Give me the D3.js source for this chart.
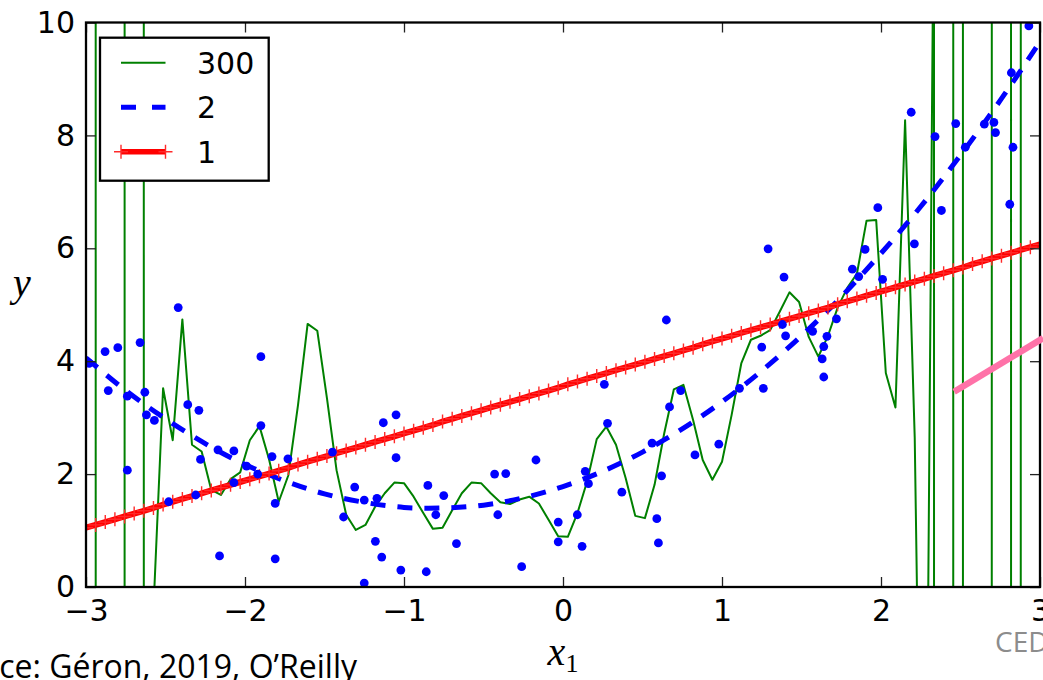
<!DOCTYPE html>
<html>
<head>
<meta charset="utf-8">
<script src="https://cdn.jsdelivr.net/npm/d3@7"></script>
<style>
  body { margin: 0; background: #fff; }
  svg { display: block; }
</style>
</head>
<body>
<svg id="chart" width="1043" height="680"></svg>
<script>
////////////////////////////////////////////////////////////////////// DATA //////////////////////////////////////////////////////
// sample grid of the fitted curves (np.linspace(-3, 3, 100))
var xNew = d3.range(100).map(function(i) { return -3 + 6 * i / 99; });

var BIG = 5000; // degree 300 fit shoots far off the chart at both ends

// degree 300 fit, one value per grid point
var y300 = [
  BIG, 40, -BIG, -BIG, -30, BIG, -5, -0.4, 3.52, 2.60,
  4.74, 2.52, 2.40, 1.72, 1.63, 1.91, 2.03, 2.60, 2.85, 2.26,
  1.51, 1.98, 3.22, 4.66, 4.54, 3.35, 2.07, 1.28, 1.01, 1.10,
  1.42, 1.66, 1.85, 1.84, 1.60, 1.31, 1.03, 1.05, 1.36, 1.66,
  1.85, 1.84, 1.66, 1.50, 1.47, 1.55, 1.60, 1.48, 1.19, 0.90,
  0.89, 1.31, 1.87, 2.62, 2.84, 2.52, 1.93, 1.26, 1.22, 1.81,
  2.72, 3.50, 3.58, 2.96, 2.25, 1.90, 2.22, 3.05, 3.96, 4.38,
  4.45, 4.55, 4.88, 5.22, 5.05, 4.43, 4.08, 4.45, 4.95, 5.30,
  5.55, 6.49, 6.50, 3.79, 3.18, 8.27, 2.65, -8.9, 13, -BIG,
  20, 20, -BIG, -BIG, 20, BIG, -20, -20, BIG, BIG
];

// degree 1 fit, one value per grid point
var y1 = [
  1.05, 1.10, 1.15, 1.20, 1.25, 1.30, 1.35, 1.40, 1.46, 1.51,
  1.56, 1.61, 1.66, 1.71, 1.76, 1.81, 1.86, 1.91, 1.96, 2.01,
  2.06, 2.11, 2.17, 2.22, 2.27, 2.32, 2.37, 2.42, 2.47, 2.52,
  2.57, 2.62, 2.67, 2.72, 2.77, 2.82, 2.87, 2.93, 2.98, 3.03,
  3.08, 3.13, 3.18, 3.23, 3.28, 3.33, 3.38, 3.43, 3.48, 3.53,
  3.59, 3.64, 3.69, 3.74, 3.79, 3.84, 3.89, 3.94, 3.99, 4.04,
  4.09, 4.14, 4.19, 4.24, 4.30, 4.35, 4.40, 4.45, 4.50, 4.55,
  4.60, 4.65, 4.70, 4.75, 4.80, 4.85, 4.90, 4.95, 5.01, 5.06,
  5.11, 5.16, 5.21, 5.26, 5.31, 5.36, 5.41, 5.46, 5.51, 5.56,
  5.61, 5.66, 5.72, 5.77, 5.82, 5.87, 5.92, 5.97, 6.02, 6.07
];

// degree 2 fit
var quadX = [-3, -2.75, -2.5, -2.25, -2, -1.75, -1.5, -1.25, -1, -0.75, -0.5, -0.25,
             0, 0.25, 0.5, 0.75, 1, 1.25, 1.5, 1.75, 2, 2.25, 2.5, 2.75, 3];
var quadY = [4.06, 3.48, 2.98, 2.54, 2.17, 1.88, 1.65, 1.50, 1.41, 1.40, 1.45, 1.58,
             1.78, 2.05, 2.39, 2.80, 3.28, 3.83, 4.45, 5.14, 5.91, 6.74, 7.65, 8.62, 9.66];

// training points
var dotX = [-2.42, -2.88, -2.80, -2.66, -2.98, -2.86, -2.74, -2.63, -2.62, -2.57,
            -2.74, -2.36, -2.29, -1.90, -2.28, -2.17, -2.07, -1.99, -1.90, -1.92,
            -1.83, -1.73, -2.07, -2.31, -2.48, -1.81, -1.45, -2.16, -1.81, -1.13,
            -1.05, -1.05, -1.31, -1.38, -1.25, -1.17, -1.18, -1.14, -1.02, -1.25,
             0.65,  0.26,  0.28, -0.17, -0.43, -0.36, -0.85, -0.75, -0.80, -0.41,
            -0.67, -0.86, -0.26, -0.03, -0.03,  0.09,  0.12,  0.14,  0.16,  0.37,
             0.56,  0.62,  0.59,  0.60,  0.67,  0.74,  0.83,  0.98,  1.11,  1.26,
             1.25,  1.38,  1.40,  1.57,  1.66,  1.64,  1.63,  1.64,  1.72,  1.29,
             1.39,  1.82,  1.86,  1.90,  1.98,  2.01,  2.21,  2.19,  2.38,  2.34,
             2.47,  2.53,  2.65,  2.71,  2.72,  2.81,  2.83,  2.82,  2.93];
var dotY = [4.95, 4.17, 4.24, 4.33, 3.96, 3.48, 3.38, 3.45, 3.05, 2.95,
            2.07, 3.23, 3.13, 4.08, 2.26, 2.43, 2.41, 2.14, 2.86, 2.00,
            2.31, 2.27, 1.85, 1.63, 1.51, 1.48, 2.39, 0.55, 0.50, 2.91,
            3.05, 2.29, 1.77, 1.24, 1.54, 1.57, 0.81, 0.53, 0.30, 0.07,
            4.73, 3.59, 2.90, 2.25, 2.00, 2.01, 1.80, 1.62, 1.28, 1.28,
            0.77, 0.27, 0.36, 1.15, 0.80, 1.28, 0.72, 2.05, 1.83, 1.68,
            2.55, 1.97, 1.21, 0.78, 3.19, 3.48, 2.34, 2.53, 3.52, 3.52,
            4.25, 4.65, 4.45, 4.53, 4.44, 4.26, 4.04, 3.72, 4.75, 5.99,
            5.49, 5.63, 5.50, 5.98, 6.72, 5.45, 6.08, 8.41, 6.67, 7.98,
            8.21, 7.79, 8.20, 8.23, 8.05, 6.78, 7.79, 9.11, 9.94];

// pink stroke laid over the slide
var pinkX = [2.46, 3.02];
var pinkY = [3.46, 4.41];

var xTicks = [-3, -2, -1, 0, 1, 2, 3];
var yTicks = [0, 2, 4, 6, 8, 10];
var legendLabels = ["300", "2", "1"];

////////////////////////////////////////////////////////////////////// SCRIPT ////////////////////////////////////////////////////
var svg = d3.select("#chart");
var plotLeft = 86, plotRight = 1040, plotTop = 22.5, plotBottom = 587;

var x = d3.scaleLinear().domain([-3, 3]).range([plotLeft, plotRight]);
var y = d3.scaleLinear().domain([0, 10]).range([plotBottom, plotTop]);

svg.append("rect").attr("width", 1043).attr("height", 680).attr("fill", "#fff");

svg.append("defs").append("clipPath").attr("id", "plotClip")
  .append("rect")
  .attr("x", plotLeft).attr("y", plotTop)
  .attr("width", plotRight - plotLeft).attr("height", plotBottom - plotTop);

var plot = svg.append("g").attr("clip-path", "url(#plotClip)");

var line = d3.line()
  .x(function(d) { return x(d[0]); })
  .y(function(d) { return y(d[1]); });

//degree 300
plot.append("path")
  .datum(d3.zip(xNew, y300))
  .attr("d", line)
  .attr("fill", "none")
  .attr("stroke", "#008000")
  .attr("stroke-width", 2)
  .attr("stroke-linejoin", "round");

//degree 2
plot.append("path")
  .datum(d3.zip(quadX, quadY))
  .attr("d", line.curve(d3.curveNatural))
  .attr("fill", "none")
  .attr("stroke", "#0000ff")
  .attr("stroke-width", 5)
  .attr("stroke-dasharray", "15,12");
line.curve(d3.curveLinear);

//degree 1 with + markers
var redData = d3.zip(xNew, y1);
plot.append("path")
  .datum(redData)
  .attr("d", line)
  .attr("fill", "none")
  .attr("stroke", "#ff0000")
  .attr("stroke-width", 6);

plot.selectAll(".plus")
  .data(redData)
  .enter()
  .append("path")
  .attr("class", "plus")
  .attr("d", "M-7,0H7M0,-7V7")
  .attr("transform", function(d) { return "translate(" + x(d[0]) + "," + y(d[1]) + ")"; })
  .attr("stroke", "#ff2a2a")
  .attr("stroke-width", 1.4);

//training points
plot.selectAll("circle")
  .data(d3.zip(dotX, dotY))
  .enter()
  .append("circle")
  .attr("cx", function(d) { return x(d[0]); })
  .attr("cy", function(d) { return y(d[1]); })
  .attr("r", 4.4)
  .attr("fill", "#0000ff");

//axes, ticks point inwards on all four sides
var intFmt = d3.format("d");
function styleAxis(g) {
  g.select(".domain").remove();
  g.selectAll(".tick line").attr("stroke", "#222").attr("stroke-width", 1.3);
  g.selectAll(".tick text")
    .attr("fill", "#000")
    .style("font-family", "'DejaVu Sans', sans-serif")
    .style("font-size", "30px");
}

svg.append("g")
  .attr("transform", "translate(0," + plotBottom + ")")
  .call(d3.axisBottom(x).tickValues(xTicks).tickFormat(intFmt)
    .tickSizeInner(-10).tickSizeOuter(0).tickPadding(13))
  .call(styleAxis);

svg.append("g")
  .attr("transform", "translate(0," + plotTop + ")")
  .call(d3.axisTop(x).tickValues(xTicks).tickSizeInner(-10).tickSizeOuter(0).tickFormat(""))
  .call(styleAxis);

svg.append("g")
  .attr("transform", "translate(" + plotLeft + ",0)")
  .call(d3.axisLeft(y).tickValues(yTicks).tickFormat(intFmt)
    .tickSizeInner(-10).tickSizeOuter(0).tickPadding(11))
  .call(styleAxis);

svg.append("g")
  .attr("transform", "translate(" + plotRight + ",0)")
  .call(d3.axisRight(y).tickValues(yTicks).tickSizeInner(-10).tickSizeOuter(0).tickFormat(""))
  .call(styleAxis);

svg.append("rect")
  .attr("x", plotLeft).attr("y", plotTop)
  .attr("width", plotRight - plotLeft).attr("height", plotBottom - plotTop)
  .attr("fill", "none")
  .attr("stroke", "#000")
  .attr("stroke-width", 2.3);

//legend
var legend = svg.append("g");
legend.append("rect")
  .attr("x", 100).attr("y", 37.7)
  .attr("width", 168.7).attr("height", 143)
  .attr("fill", "#fff")
  .attr("stroke", "#000")
  .attr("stroke-width", 2.3);

var rows = [62.7, 107.3, 151.7];
legend.append("line")
  .attr("x1", 121).attr("x2", 165.5).attr("y1", rows[0]).attr("y2", rows[0])
  .attr("stroke", "#008000").attr("stroke-width", 2);
legend.append("line")
  .attr("x1", 121).attr("x2", 165.5).attr("y1", rows[1]).attr("y2", rows[1])
  .attr("stroke", "#0000ff").attr("stroke-width", 5).attr("stroke-dasharray", "15,16");
legend.append("line")
  .attr("x1", 121).attr("x2", 165.5).attr("y1", rows[2]).attr("y2", rows[2])
  .attr("stroke", "#ff0000").attr("stroke-width", 5.5);
legend.selectAll(".lplus")
  .data([121, 165.5])
  .enter()
  .append("path")
  .attr("class", "lplus")
  .attr("d", "M-7,0H7M0,-7V7")
  .attr("transform", function(d) { return "translate(" + d + "," + rows[2] + ")"; })
  .attr("stroke", "#ff2a2a")
  .attr("stroke-width", 1.4);

legend.selectAll(".ltext")
  .data(legendLabels)
  .enter()
  .append("text")
  .attr("class", "ltext")
  .attr("x", 197)
  .attr("y", function(d, i) { return rows[i]; })
  .attr("dy", "0.36em")
  .style("font-family", "'DejaVu Sans', sans-serif")
  .style("font-size", "30px")
  .text(function(d) { return d; });

//axis labels
svg.append("text")
  .attr("x", 22).attr("y", 296)
  .attr("text-anchor", "middle")
  .style("font-family", "'Liberation Serif', serif")
  .style("font-style", "italic")
  .style("font-size", "40px")
  .text("y");

var xl = svg.append("text")
  .attr("x", 563).attr("y", 665)
  .attr("text-anchor", "middle")
  .style("font-family", "'Liberation Serif', serif")
  .style("font-size", "40px");
xl.append("tspan").style("font-style", "italic").text("x");
xl.append("tspan").attr("dy", 7).style("font-size", "26px").text("1");

//pink stroke, not clipped
svg.append("path")
  .datum(d3.zip(pinkX, pinkY))
  .attr("d", line)
  .attr("stroke", "#ff72a8")
  .attr("stroke-width", 6.5)
  .attr("fill", "none");

//slide texts
svg.append("text")
  .attr("x", 357).attr("y", 678)
  .attr("text-anchor", "end")
  .style("font-family", "'Open Sans', sans-serif")
  .style("font-size", "32px")
  .attr("fill", "#000")
  .text("Source: Géron, 2019, O’Reilly");

svg.append("text")
  .attr("x", 995).attr("y", 652)
  .style("font-family", "'Open Sans', sans-serif")
  .style("font-size", "28px")
  .attr("fill", "#8c8c8c")
  .text("CED");
</script>
</body>
</html>
